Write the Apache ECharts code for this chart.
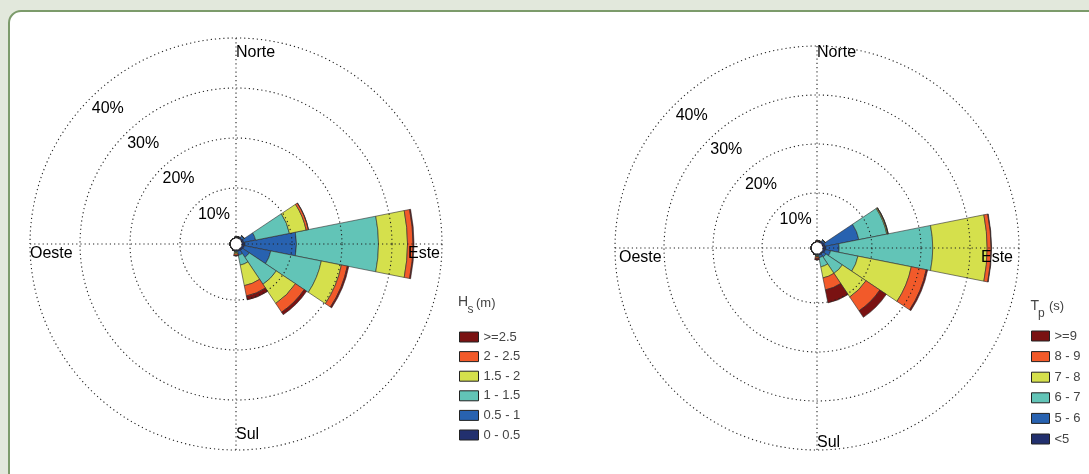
<!DOCTYPE html>
<html>
<head>
<meta charset="utf-8">
<script src="https://cdn.jsdelivr.net/npm/echarts@6/dist/echarts.min.js"></script>
<style>
html,body{margin:0;padding:0;background:#e2e8dc;}
#chart{width:1089px;height:474px;}
</style>
</head>
<body>
<div id="chart"></div>
<script>
// ---------- data ----------
const directions = ['N','NNE','NE','ENE','E','ESE','SE','SSE','S','SSW','SW','WSW','W','WNW','NW','NNW'];
const ringTicks = [10, 20, 30, 40];

// Hs (m) classes, % of occurrences per direction
const hsNames = ['0 - 0.5', '0.5 - 1', '1 - 1.5', '1.5 - 2', '2 - 2.5', '>=2.5'];
const hs_0_05  = [0.2, 0.2, 0.3, 0.4,  0.6,  0.5, 0.4, 0.3, 0.1, 0.1, 0, 0, 0, 0, 0, 0];
const hs_05_1  = [0,   0.1, 0.4, 2.4, 10.3,  5.4, 1.6, 0.8, 0.2, 0.1, 0, 0, 0, 0, 0, 0];
const hs_1_15  = [0,   0,   0.1, 6.9, 16.4, 10.3, 6.5, 2.0, 0.2, 0,   0, 0, 0, 0, 0, 0];
const hs_15_2  = [0,   0,   0,   3.4,  5.8,  4.1, 4.6, 4.2, 0.3, 0,   0, 0, 0, 0, 0, 0];
const hs_2_25  = [0,   0,   0,   0.45, 1.1,  1.2, 2.1, 2.1, 0.3, 0,   0, 0, 0, 0, 0, 0];
const hs_25    = [0,   0,   0,   0.05, 0.2,  0.3, 0.6, 0.8, 0.1, 0,   0, 0, 0, 0, 0, 0];

// Tp (s) classes
const tpNames = ['<5', '5 - 6', '6 - 7', '7 - 8', '8 - 9', '>=9'];
const tp_lt5 = [0.2, 0.2, 0.4, 0.5,  0.6,  0.5, 0.3, 0.3, 0.1, 0.1, 0, 0, 0, 0, 0, 0];
const tp_5_6 = [0,   0.1, 0.3, 7.0,  2.7,  1.1, 0.7, 0.5, 0.1, 0.1, 0, 0, 0, 0, 0, 0];
const tp_6_7 = [0,   0,   0.1, 5.8, 19.1,  5.7, 4.0, 1.9, 0.2, 0,   0, 0, 0, 0, 0, 0];
const tp_7_8 = [0,   0,   0,   0.2, 11.1, 11.1, 5.8, 2.3, 0.2, 0,   0, 0, 0, 0, 0, 0];
const tp_8_9 = [0,   0,   0,   0.1,  0.8,  3.1, 3.4, 2.5, 0.3, 0,   0, 0, 0, 0, 0, 0];
const tp_9   = [0,   0,   0,   0,    0.1,  0.3, 1.6, 2.7, 0.3, 0,   0, 0, 0, 0, 0, 0];

const classColors = ['#22306e', '#2862b0', '#62c4b7', '#d5e04c', '#f25a2a', '#7a1212'];

// ---------- layout ----------
const FONT = '"Liberation Sans", Arial, Helvetica, sans-serif';
// padV / padH: how far the compass labels sit inside the outer ring
const roses = [
  {cx: 236, cy: 244, R: 206, r0: 6, padV: 14.5, padS: 15, padE: 2, padW: 0},
  {cx: 817, cy: 248, R: 202, r0: 6, padV: 7,    padS: 7,  padE: 6, padW: 4}
];
const RMAX = 40;

const chart = echarts.init(document.getElementById('chart'), null, {renderer: 'canvas'});

function barSeries(polarIndex, stack, names, arrays) {
  return arrays.map((arr, i) => ({
    type: 'bar', coordinateSystem: 'polar', polarIndex: polarIndex,
    stack: stack, name: names[i], data: arr,
    barCategoryGap: '0%',
    itemStyle: {color: classColors[i], borderColor: '#2a2a2a', borderWidth: 0.6},
    emphasis: {disabled: true}, silent: true, z: 2
  }));
}

const polar = [];
const angleAxis = [];
const radiusAxis = [];
roses.forEach((r) => { polar.push({center: [r.cx, r.cy], radius: [r.r0, r.R]}); });
roses.forEach((r) => { polar.push({center: [r.cx, r.cy], radius: [r.r0, r.R]}); });
const dotted = {type: [1.2, 3], color: '#222', width: 1.1};
for (let i = 0; i < 2; i++) {
  angleAxis.push({
    polarIndex: i, type: 'category', data: directions, startAngle: 90 + 180 / directions.length,
    boundaryGap: true, axisLine: {show: false}, axisTick: {show: false},
    axisLabel: {show: false}, splitLine: {show: false}
  });
  radiusAxis.push({
    polarIndex: i, type: 'value', min: 0, max: RMAX,
    axisLine: {show: false}, axisTick: {show: false}, axisLabel: {show: false}, splitLine: {show: false}
  });
}
for (let i = 2; i < 4; i++) {
  angleAxis.push({
    polarIndex: i, type: 'value', min: 0, max: 360, interval: 90, startAngle: 90, z: 5,
    axisLine: {show: false}, axisTick: {show: false}, axisLabel: {show: false},
    splitLine: {show: true, lineStyle: dotted}
  });
  radiusAxis.push({
    polarIndex: i, type: 'value', min: 0, max: RMAX, interval: 10, z: 5,
    axisLine: {show: false}, axisTick: {show: false}, axisLabel: {show: false},
    splitLine: {show: true, lineStyle: dotted}
  });
}

// ---------- text ----------
const graphic = [{
  type: 'rect', z: -10, silent: true,
  shape: {x: 9, y: 11, width: 1110, height: 490, r: 12},
  style: {fill: '#ffffff', stroke: '#7c9b6b', lineWidth: 2}
}];
function txt(text, x, y, align, size, color, vAlign) {
  graphic.push({
    type: 'text', z: 20, silent: true,
    style: {text: text, x: x, y: y, textAlign: align, textVerticalAlign: vAlign || 'middle',
            fill: color || '#000', font: (size || 16) + 'px ' + FONT}
  });
}
roses.forEach((r) => {
  const ringR = v => r.r0 + (r.R - r.r0) * v / RMAX;
  ringTicks.forEach(v => {
    const d = ringR(v) * Math.SQRT1_2;
    txt(v + '%', r.cx - d + 33.5, r.cy - d + 18, 'right', 16, '#000', 'bottom');
  });
  txt('Norte', r.cx, r.cy - r.R + r.padV, 'left');
  txt('Sul', r.cx, r.cy + r.R - r.padS, 'left');
  txt('Este', r.cx + r.R - r.padE, r.cy + 10, 'right');
  txt('Oeste', r.cx - r.R + r.padW, r.cy + 10, 'left');
});
// legend titles
txt('H', 458, 302, 'left', 14, '#444');
txt('s', 467.5, 309.5, 'left', 12, '#444');
txt('(m)', 476, 303, 'left', 13, '#444');
txt('T', 1030.5, 306.5, 'left', 14, '#444');
txt('p', 1038, 314, 'left', 12, '#444');
txt('(s)', 1049, 306.5, 'left', 13, '#444');

function legend(names, left, top, gap, w) {
  return {
    data: names.slice().reverse(), orient: 'vertical', left: left, top: top,
    itemWidth: w, itemHeight: 10, itemGap: gap, padding: 0, icon: 'rect', selectedMode: false,
    itemStyle: {borderColor: '#222', borderWidth: 1},
    textStyle: {fontSize: 13, lineHeight: 14, color: '#444', fontFamily: FONT}
  };
}

chart.setOption({
  animation: false,
  backgroundColor: '#e2e8dc',
  polar: polar,
  angleAxis: angleAxis,
  radiusAxis: radiusAxis,
  legend: [legend(hsNames, 459, 330, 5.6, 19), legend(tpNames, 1031, 329, 6.6, 18)],
  graphic: graphic,
  series: [].concat(
    barSeries(0, 'hs', hsNames, [hs_0_05, hs_05_1, hs_1_15, hs_15_2, hs_2_25, hs_25]),
    barSeries(1, 'tp', tpNames, [tp_lt5, tp_5_6, tp_6_7, tp_7_8, tp_8_9, tp_9])
  )
});
</script>
</body>
</html>
